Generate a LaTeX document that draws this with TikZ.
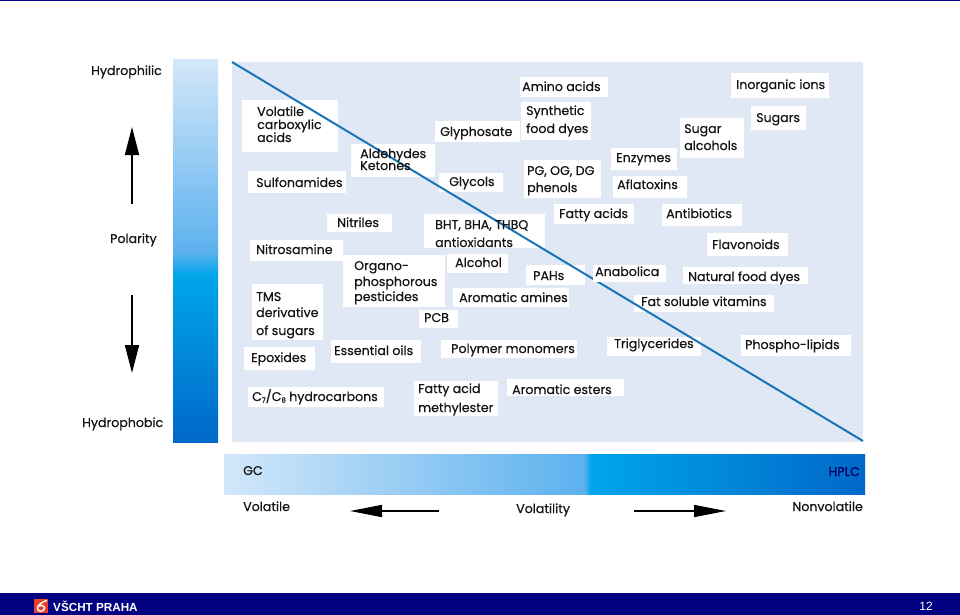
\documentclass[tikz,border=0pt]{standalone}
\usepackage{fontspec}
\setmainfont{Poppins}[RawFeature={embolden=0.5}]
\newfontfamily\footfont{Liberation Sans}
\usetikzlibrary{arrows.meta}
\definecolor{panelc}{HTML}{E1E8F5}
\definecolor{linec}{HTML}{1A75B5}
\definecolor{gradA}{HTML}{D3E7FA}
\definecolor{gradB}{HTML}{5CB1EE}
\definecolor{gradC}{HTML}{00A5EA}
\definecolor{gradD}{HTML}{0068C8}
\definecolor{navy}{HTML}{000080}
\definecolor{logored}{HTML}{E8402A}
\tikzset{
  x=1pt,y=-1pt,
  wbox/.style={fill=white,draw=none,inner sep=0pt,anchor=north west},
  lbl/.style={font=\fontsize{12.6}{14}\selectfont,text=black!92,anchor=west,inner sep=0pt,text height=9pt,text depth=3pt,yshift=-1pt},
  bigarrow/.style={line width=1.6pt,black,-{Triangle[length=28pt,width=14pt]},shorten >=0pt},
  bighoriz/.style={line width=1.6pt,black,-{Triangle[length=32pt,width=12pt]}},
  diag/.style={line width=2pt,linec},
  foot/.style={font=\footfont\fontsize{12}{14}\selectfont,text=white,inner sep=0pt},
}
% name, box x0,y0,x1,y1
\newcommand{\bx}[5]{\node[wbox,minimum width=#4pt-#2pt,minimum height=#5pt-#3pt] (#1) at (#2,#3) {};}
\newcommand{\tx}[4]{\node[lbl] (#1) at (#2,#3) {#4};}
\begin{document}
\begin{tikzpicture}
\useasboundingbox (0,0) rectangle (960,615);
\fill[white] (0,0) rectangle (960,615);
\fill[navy] (0,0) rectangle (960,1.5);
\fill[navy] (0,593) rectangle (960,615);
% left bar
\shade[top color=gradA,bottom color=gradB] (173,60) rectangle (218,252);
\shade[top color=gradB,bottom color=gradC] (173,252) rectangle (218,275);
\shade[top color=gradC,bottom color=gradD] (173,275) rectangle (218,442);
% panel
\fill[panelc] (232,62) rectangle (863,442);
% boxes
\bx{b1}{242}{100}{338}{152}
\bx{b2}{351}{144}{435}{177}
\bx{b3}{248}{171}{346}{193}
\bx{b4}{327}{214}{392}{232}
\bx{b5}{250}{240}{343}{261}
\bx{b6}{343}{255}{445}{307}
\bx{b7}{252}{284}{323}{340}
\bx{b8}{244}{347}{315}{370}
\bx{b9}{331}{340}{421}{363}
\bx{b10}{419}{310}{458}{328}
\bx{b11}{248}{387}{384}{407}
\bx{b12}{414}{381}{498}{416}
\bx{b13}{507}{379}{624}{396}
\bx{b14}{441}{340}{577}{358}
\bx{b15}{607}{337}{701}{356}
\bx{b16}{741}{335}{851}{356}
\bx{b17}{634}{295}{774}{312}
\bx{b18}{453}{288}{569}{307}
\bx{b19}{447}{254}{508}{273}
\bx{b20}{526}{265}{585}{285}
\bx{b22}{683}{267}{808}{284}
\bx{b23}{707}{233}{788}{256}
\bx{b24}{662}{204}{742}{226}
\bx{b25}{554}{204}{634}{224}
\bx{b26}{424}{214}{545}{248}
\bx{b27}{439}{173}{503}{192}
\bx{b28}{435}{121}{520}{142}
\bx{b29}{520}{77}{608}{97}
\bx{b30}{521}{102}{591}{140}
\bx{b31}{524}{160}{601}{198}
\bx{b32}{611}{148}{677}{170}
\bx{b33}{613}{176}{687}{198}
\bx{b34}{680}{118}{744}{158}
\bx{b35}{751}{106}{806}{130}
\bx{b36}{731}{73}{829}{98}
% diagonal
\coordinate (dA) at (232,62);
\coordinate (dB) at (863,441);
\draw[diag] (dA) -- (dB);
\bx{b21}{593}{265}{666}{282}
% labels
\tx{t1a}{257}{112}{Volatile}
\tx{t1b}{257}{125}{carboxylic}
\tx{t1c}{257}{138}{acids}
\tx{t2a}{360}{154}{Aldehydes}
\tx{t2b}{360}{166}{Ketones}
\tx{t3}{256}{183}{Sulfonamides}
\tx{t4}{337}{223}{Nitriles}
\tx{t5}{256}{250}{Nitrosamine}
\tx{t6a}{354}{266}{Organo-}
\tx{t6b}{354}{282}{phosphorous}
\tx{t6c}{354}{297}{pesticides}
\tx{t7a}{256}{297}{TMS}
\tx{t7b}{256}{313}{derivative}
\tx{t7c}{256}{331}{of sugars}
\tx{t8}{251}{358}{Epoxides}
\tx{t9}{334}{351}{Essential oils}
\tx{t10}{424}{318}{PCB}
\tx{t11}{252}{397}{C\raisebox{-1.5pt}{\fontsize{7}{8}\selectfont 7}/C\raisebox{-1.5pt}{\fontsize{7}{8}\selectfont 8} hydrocarbons}
\tx{t12a}{418}{389}{Fatty acid}
\tx{t12b}{418}{408}{methylester}
\tx{t13}{512}{390}{Aromatic esters}
\tx{t14}{451}{349}{Polymer monomers}
\tx{t15}{614}{344}{Triglycerides}
\tx{t16}{745}{345}{Phospho-lipids}
\tx{t17}{641}{302}{Fat soluble vitamins}
\tx{t18}{459}{298}{Aromatic amines}
\tx{t19}{455}{263}{Alcohol}
\tx{t20}{533}{276}{PAHs}
\tx{t21}{595}{272}{Anabolica}
\tx{t22}{688}{277}{Natural food dyes}
\tx{t23}{712}{245}{Flavonoids}
\tx{t24}{666}{214}{Antibiotics}
\tx{t25}{559}{214}{Fatty acids}
\tx{t26a}{435}{225}{BHT, BHA, THBQ}
\tx{t26b}{435}{243}{antioxidants}
\tx{t27}{449}{182}{Glycols}
\tx{t28}{440}{132}{Glyphosate}
\tx{t29}{522}{87}{Amino acids}
\tx{t30a}{526}{111}{Synthetic}
\tx{t30b}{526}{129}{food dyes}
\tx{t31a}{527}{171}{PG, OG, DG}
\tx{t31b}{527}{188}{phenols}
\tx{t32}{616}{158}{Enzymes}
\tx{t33}{617}{185}{Aflatoxins}
\tx{t34a}{684}{129}{Sugar}
\tx{t34b}{684}{146}{alcohols}
\tx{t35}{756}{118}{Sugars}
\tx{t36}{736}{85}{Inorganic ions}
% axis labels
\tx{hphil}{91}{71}{Hydrophilic}
\tx{pol}{110}{239}{Polarity}
\tx{hphob}{82}{423}{Hydrophobic}
\coordinate (uS) at (132,204);
\coordinate (uE) at (132,127);
\coordinate (dS) at (132,295);
\coordinate (dE) at (132,373);
\draw[bigarrow] (uS) -- (uE);
\draw[bigarrow] (dS) -- (dE);
% bottom bar
\shade[left color=gradA,right color=gradB] (224,454) rectangle (584,494);
\shade[left color=gradB,right color=gradC] (584,454) rectangle (591,494);
\shade[left color=gradC,right color=gradD] (591,454) rectangle (865,494);
\tx{gc}{243}{471}{GC}
\node[lbl,anchor=east,text=navy!70!black] (hplc) at (860,472) {HPLC};
\tx{vol}{243}{507}{Volatile}
\tx{vty}{516}{509}{Volatility}
\node[lbl,anchor=east] (nvol) at (863,507) {Nonvolatile};
\coordinate (lS) at (439,511);
\coordinate (lE) at (350,511);
\coordinate (rS) at (634,511);
\coordinate (rE) at (726,511);
\draw[bighoriz] (lS) -- (lE);
\draw[bighoriz] (rS) -- (rE);
% footer
\fill[logored] (34,599) rectangle (48,613);
\draw[white,line width=1.4pt,line cap=round] (46.5,600.5) .. controls (42,602) and (38,605) .. (37.5,608) .. controls (37,612) and (43.5,612.5) .. (44.5,608.5) .. controls (45,605.5) and (41,604.5) .. (37.5,606.5);
\node[foot,font=\footfont\bfseries\fontsize{11.7}{14}\selectfont,anchor=west] (vscht) at (53,606.5) {VŠCHT PRAHA};
\node[foot,anchor=east] (pg) at (933,606) {12};
\end{tikzpicture}
\end{document}
